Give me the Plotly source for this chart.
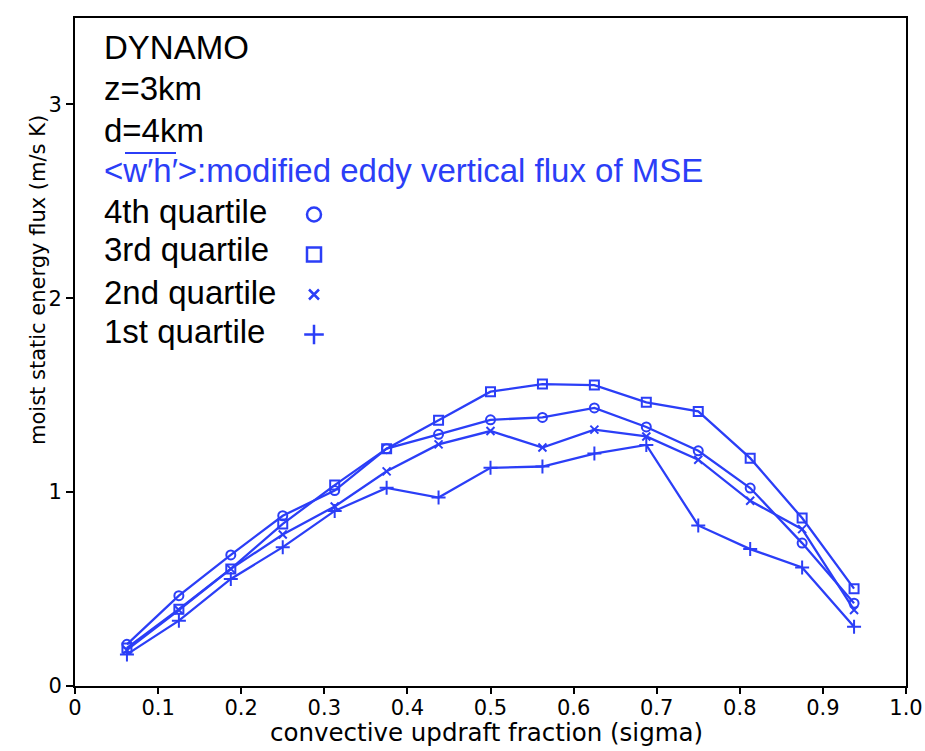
import plotly.graph_objects as go

# convective updraft fraction bins (sigma)
sigma = [0.0625, 0.125, 0.1875, 0.25, 0.3125, 0.375, 0.4375, 0.5,
         0.5625, 0.625, 0.6875, 0.75, 0.8125, 0.875, 0.9375]

# modified eddy vertical flux of MSE (m/s K) by rain quartile
q4 = [0.215, 0.466, 0.676, 0.878, 1.008, 1.224, 1.298, 1.373, 1.385, 1.434, 1.336, 1.213, 1.021, 0.737, 0.427]
q3 = [0.196, 0.396, 0.604, 0.836, 1.036, 1.224, 1.370, 1.518, 1.557, 1.552, 1.463, 1.416, 1.175, 0.866, 0.502]
q2 = [0.186, 0.392, 0.604, 0.781, 0.926, 1.107, 1.246, 1.315, 1.230, 1.322, 1.287, 1.167, 0.955, 0.809, 0.392]
q1 = [0.163, 0.337, 0.552, 0.716, 0.903, 1.022, 0.972, 1.125, 1.132, 1.199, 1.243, 0.828, 0.706, 0.611, 0.306]

series_names = ["4th quartile", "3rd quartile", "2nd quartile", "1st quartile"]
series_values = [q4, q3, q2, q1]
symbols = ["circle-open", "square-open", "x-thin-open", "cross-thin-open"]
plot_sizes = [9, 9, 8, 10]
key_sizes = [14, 14, 10, 14]

x_ticks = [0, 0.1, 0.2, 0.3, 0.4, 0.5, 0.6, 0.7, 0.8, 0.9, 1.0]
x_tick_text = ["0", "0.1", "0.2", "0.3", "0.4", "0.5", "0.6", "0.7", "0.8", "0.9", "1.0"]
y_ticks = [0, 1, 2, 3]

header_lines = ["DYNAMO", "z=3km", "d=4km"]
flux_label = "<w\u2032h\u2032>:modified eddy vertical flux of MSE"
x_title = "convective updraft fraction (sigma)"
y_title = "moist static energy flux (m/s K)"

BLUE = "#2b3ef7"
AXFONT = "DejaVu Sans, Verdana, sans-serif"
SANS = "Liberation Sans, Arial, Helvetica, sans-serif"

# plot box in pixels: left 75, right 906, top 18, bottom 686
def px(x):
    return (x - 75) / 831


def py(y):
    return (686 - y) / 668


fig = go.Figure()

for name, vals, sym, ms in zip(series_names, series_values, symbols, plot_sizes):
    fig.add_trace(go.Scatter(
        x=sigma, y=vals, mode="lines+markers", name=name, showlegend=False,
        line=dict(color=BLUE, width=2.3),
        marker=dict(symbol=sym, size=ms, color=BLUE, line=dict(color=BLUE, width=2)),
    ))

# marker-only keys for the legend column beside the quartile labels
for i, (name, sym, ks) in enumerate(zip(series_names, symbols, key_sizes)):
    fig.add_trace(go.Scatter(
        x=[None], y=[None], mode="markers", name=" ", showlegend=True,
        legendgroup=f"g{i}",
        marker=dict(symbol=sym, size=ks, color=BLUE, line=dict(color=BLUE, width=2.5)),
    ))

annotations = []
line_y = [48, 89, 130, 170, 211, 250, 292, 331]
texts = header_lines + [flux_label] + series_names
colors = ["black"] * 3 + [BLUE] + ["black"] * 4
for t, yy, c in zip(texts, line_y, colors):
    annotations.append(dict(
        text=t, x=px(102), y=py(yy), xref="paper", yref="paper",
        xanchor="left", yanchor="middle", showarrow=False,
        font=dict(family=SANS, size=33, color=c),
    ))

# axis titles
annotations.append(dict(
    text=x_title, x=px(486), y=py(732), xref="paper", yref="paper",
    xanchor="center", yanchor="middle", showarrow=False,
    font=dict(family=AXFONT, size=24.5, color="black"),
))
annotations.append(dict(
    text=y_title, x=px(38), y=py(280), xref="paper", yref="paper",
    xanchor="center", yanchor="middle", showarrow=False, textangle=-90,
    font=dict(family=AXFONT, size=21, color="black"),
))

fig.update_layout(
    width=925, height=751,
    margin=dict(l=75, r=19, t=18, b=65),
    paper_bgcolor="white", plot_bgcolor="white",
    annotations=annotations,
    shapes=[dict(type="line", xref="paper", yref="paper",
                 x0=px(125), x1=px(176), y0=py(153), y1=py(153),
                 line=dict(color=BLUE, width=2))],
    legend=dict(x=px(294), y=py(195), xanchor="left", yanchor="top",
                bgcolor="rgba(0,0,0,0)", font=dict(size=20), tracegroupgap=11,
                itemwidth=30),
    xaxis=dict(
        range=[0, 1.0], tickvals=x_ticks, ticktext=x_tick_text, automargin=False,
        showgrid=False, zeroline=False, showline=True, mirror=True,
        linecolor="black", linewidth=2, ticks="outside", ticklen=6,
        tickwidth=1.5, tickcolor="black", ticklabelstandoff=-4,
        tickfont=dict(family=AXFONT, size=21, color="black"),
    ),
    yaxis=dict(
        range=[0, 3.445], tickvals=y_ticks, automargin=False,
        showgrid=False, zeroline=False, showline=True, mirror=True,
        linecolor="black", linewidth=2, ticks="outside", ticklen=7,
        tickwidth=1.5, tickcolor="black",
        tickfont=dict(family=AXFONT, size=21, color="black"),
    ),
)

fig.write_html("out.html")
